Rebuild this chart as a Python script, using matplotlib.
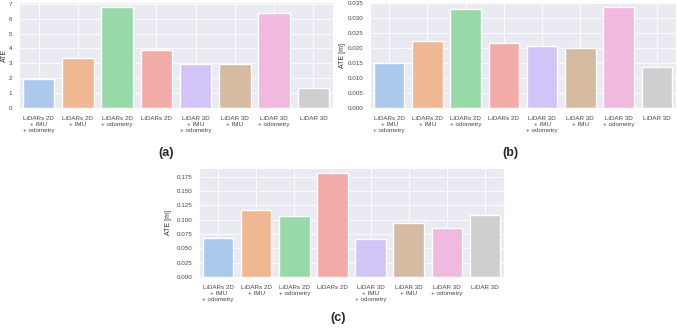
import matplotlib
matplotlib.use("Agg")
import matplotlib.pyplot as plt
import seaborn as sns

sns.set_style("darkgrid")
plt.rcParams['font.family'] = ['Liberation Sans', 'DejaVu Sans']

labels = ["LiDARs 2D\n+ IMU\n+ odometry", "LiDARs 2D\n+ IMU", "LiDARs 2D\n+ odometry",
          "LiDARs 2D", "LiDAR 3D\n+ IMU\n+ odometry", "LiDAR 3D\n+ IMU",
          "LiDAR 3D\n+ odometry", "LiDAR 3D"]

ate_a = [1.91, 3.38, 6.78, 3.91, 2.93, 2.98, 6.38, 1.33]
ate_b = [0.0149, 0.0224, 0.0330, 0.0219, 0.0207, 0.0202, 0.0337, 0.0138]
ate_c = [0.0681, 0.1174, 0.1062, 0.1808, 0.0669, 0.0933, 0.0851, 0.1074]

pal = sns.color_palette("pastel", 8)

fig = plt.figure(figsize=(6.77, 3.28), dpi=100)

def panel(rect, vals, ylab, tag, tagxy, labx):
    ax = fig.add_axes(rect)
    sns.barplot(x=list(range(len(vals))), y=vals, palette=pal, hue=list(range(len(vals))),
                legend=False, ax=ax, width=0.8)
    ax.set_xticks(range(len(labels)))
    ax.set_xticklabels(labels, fontsize=4.5, color='#444444', linespacing=1.35)
    ax.tick_params(axis='y', labelsize=4.5, labelcolor='#444444', pad=1.5)
    ax.tick_params(axis='x', pad=2)
    ax.set_ylabel(ylab, fontsize=5, color='#333333')
    ax.yaxis.set_label_coords(labx, 0.5)
    ax.grid(color='white', linewidth=0.6)
    fig.text(tagxy[0], tagxy[1], tag, fontsize=9, fontweight='bold', ha='center', va='center')
    return ax

panel([0.028, 0.671, 0.464, 0.323], ate_a, "ATE", "(a)", (166 / 677, 1 - 153 / 328), -0.035)
panel([0.5465, 0.671, 0.452, 0.322], ate_b, "ATE [m]", "(b)", (510 / 677, 1 - 153 / 328), -0.08)
panel([0.294, 0.1555, 0.4505, 0.332], ate_c, "ATE [m]", "(c)", (338 / 677, 1 - 318 / 328), -0.09)

fig.savefig("out.png", dpi=100)
